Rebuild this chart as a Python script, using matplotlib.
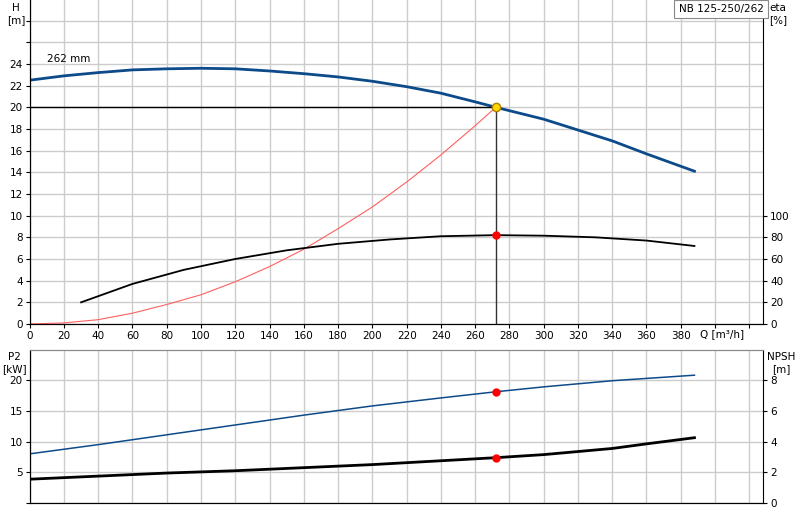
import matplotlib
matplotlib.use("Agg")
import matplotlib.pyplot as plt

q_h = [0, 20, 40, 60, 80, 100, 120, 140, 160, 180, 200, 220, 240, 260, 272, 300, 320, 340, 360, 388]
h = [22.5, 22.9, 23.2, 23.45, 23.55, 23.6, 23.55, 23.35, 23.1, 22.8, 22.4, 21.9, 21.3, 20.5, 20.0, 18.9, 17.9, 16.9, 15.7, 14.1]
q_eta = [30, 60, 90, 120, 150, 180, 210, 240, 272, 300, 330, 360, 388]
eta = [20, 37, 50, 60, 68, 74, 78, 81, 82, 81.5, 80, 77, 72]
q_sys = [0, 20, 40, 60, 80, 100, 120, 140, 160, 180, 200, 220, 240, 260, 272]
h_sys = [0, 0.1, 0.4, 1.0, 1.8, 2.7, 3.9, 5.3, 6.9, 8.8, 10.8, 13.1, 15.6, 18.3, 20.0]
q_p = [0, 40, 80, 120, 160, 200, 240, 272, 300, 340, 388]
p2 = [8.0, 9.5, 11.1, 12.7, 14.3, 15.8, 17.1, 18.1, 18.9, 19.9, 20.8]
q_n = [0, 40, 80, 120, 160, 200, 240, 272, 300, 340, 360, 388]
npsh = [1.55, 1.75, 1.95, 2.1, 2.3, 2.5, 2.75, 2.95, 3.15, 3.55, 3.85, 4.25]
q_op, h_op, eta_op, p2_op, npsh_op = 272, 20.0, 82, 18.1, 2.95

W, H = 800, 520
fig = plt.figure(figsize=(8, 5.2), dpi=100)
plt.rcParams['font.size'] = 7.5
XMAX = 428
grid_kw = dict(color='#cccccc', lw=1)

def ax_rect(l, t, r, b):
    return [l / W, 1 - b / H, (r - l) / W, (b - t) / H]

ax = fig.add_axes(ax_rect(29.7, 0, 763, 324))
ax.set_xlim(0, XMAX)
ax.set_ylim(0, 29.9)
ax.set_xticks(list(range(0, 430, 20)))
ax.set_xticklabels([str(v) if v <= 380 else '' for v in range(0, 430, 20)])
ax.set_yticks(list(range(0, 30, 2)))
ax.set_yticklabels([str(v) if v <= 24 else '' for v in range(0, 30, 2)])
ax.grid(True, **grid_kw)
ax.set_axisbelow(True)
ax.plot(q_h, h, color='#0d4a8a', lw=2)
ax.plot(q_sys, h_sys, color='#ff6060', lw=0.8)
ax.plot([0, q_op], [h_op, h_op], color='black', lw=1)
ax.plot([q_op, q_op], [0, h_op], color='#333333', lw=1)
ax.plot(q_op, h_op, 'o', ms=6, mfc='#ffd700', mec='#b08000')
ax.text(10, 24.2, '262 mm', fontsize=7.5)
ax.text(404, -0.5, 'Q [m³/h]', ha='center', va='top', fontsize=7.5)
fig.text(16 / W, 1 - 3 / H, 'H\n[m]', ha='center', va='top', fontsize=7.5)
ax.spines['top'].set_visible(False)
ax.spines['right'].set_visible(False)
ax.tick_params(length=3, pad=2)

ax2 = ax.twinx()
ax2.set_ylim(0, 299)
ax2.set_yticks([0, 20, 40, 60, 80, 100])
ax2.plot(q_eta, eta, color='black', lw=1.3)
ax2.plot(q_op, eta_op, 'o', ms=5, color='red')
ax2.spines['top'].set_visible(False)
ax2.tick_params(length=3, pad=2)
fig.text(778 / W, 1 - 3 / H, 'eta\n[%]', ha='center', va='top', fontsize=7.5)
fig.text(721 / W, 1 - 9 / H, 'NB 125-250/262', ha='center', va='center', fontsize=7.5,
         bbox=dict(boxstyle='square,pad=0.4', fc='white', ec='#888888', lw=0.8))

bx = fig.add_axes(ax_rect(29.7, 350, 763, 503))
bx.set_xlim(0, XMAX)
bx.set_ylim(0, 24.9)
bx.set_xticks(list(range(0, 430, 20)))
bx.set_xticklabels([])
bx.set_yticks([0, 5, 10, 15, 20])
bx.set_yticklabels(['', '5', '10', '15', '20'])
bx.tick_params(axis='x', length=0)
bx.tick_params(axis='y', length=3, pad=2)
bx.grid(True, **grid_kw)
bx.set_axisbelow(True)
bx.plot(q_p, p2, color='#0d4a8a', lw=1.1)
bx.plot(q_op, p2_op, 'o', ms=5, color='red')
bx.spines['top'].set_color('#888888')
bx.spines['right'].set_visible(False)
fig.text(14 / W, 1 - 352 / H, 'P2\n[kW]', ha='center', va='top', fontsize=7.5)

bx2 = bx.twinx()
bx2.set_ylim(0, 9.96)
bx2.set_yticks([0, 2, 4, 6, 8])
bx2.plot(q_n, npsh, color='black', lw=2)
bx2.plot(q_op, npsh_op, 'o', ms=5, color='red')
bx2.spines['top'].set_color('#888888')
bx2.tick_params(length=3, pad=2)
fig.text(781 / W, 1 - 352 / H, 'NPSH\n[m]', ha='center', va='top', fontsize=7.5)

fig.savefig('out.png', dpi=100)
